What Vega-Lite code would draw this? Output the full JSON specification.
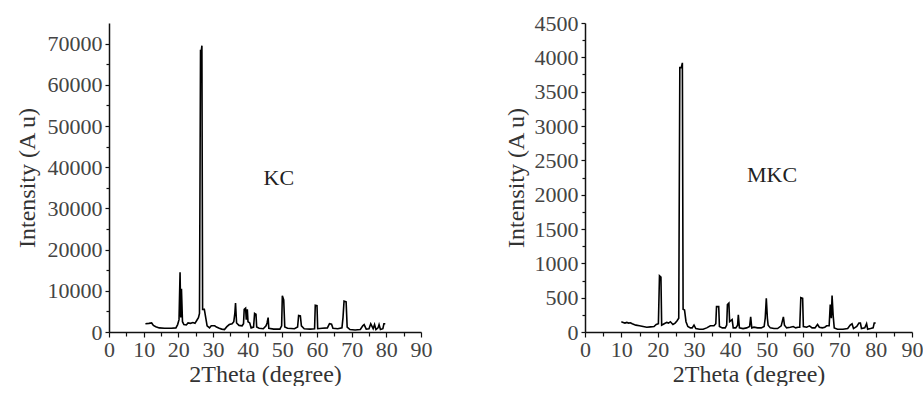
{
  "$schema": "https://vega.github.io/schema/vega-lite/v6.json",
  "background": "white",
  "padding": {"left": 15, "top": 12, "right": 0, "bottom": 0},
  "bounds": "flush",
  "spacing": 164,
  "config": {
    "view": {"stroke": null},
    "font": "Liberation Serif",
    "axis": {
      "grid": false,
      "domainColor": "#111",
      "domainWidth": 1.5,
      "tickColor": "#111",
      "tickWidth": 1.2,
      "tickSize": 5,
      "labelFont": "Liberation Serif",
      "labelFontSize": 22,
      "labelColor": "#444",
      "labelOverlap": false,
      "titleFont": "Liberation Serif",
      "titleFontSize": 24,
      "titleFontWeight": "normal",
      "titleColor": "#333"
    }
  },
  "datasets": {
    "kc": [
      {"x":10.5,"y":2000},{"x":11.5,"y":2100},{"x":12.3,"y":2200},{"x":12.8,"y":1600},{"x":13.5,"y":1300},{"x":14.5,"y":1000},{"x":16,"y":900},{"x":18,"y":900},{"x":19.3,"y":1000},{"x":19.8,"y":1800},{"x":20.2,"y":3000},{"x":20.5,"y":14500},{"x":20.7,"y":3500},{"x":20.9,"y":10500},{"x":21.2,"y":2500},{"x":21.6,"y":1800},{"x":22.3,"y":1700},{"x":22.8,"y":2200},{"x":23.5,"y":2100},{"x":24.2,"y":2300},{"x":24.8,"y":2100},{"x":25.3,"y":2800},{"x":25.8,"y":3500},{"x":26.1,"y":4500},{"x":26.4,"y":68500},{"x":26.6,"y":68000},{"x":26.8,"y":69500},{"x":27.0,"y":5500},{"x":27.5,"y":5500},{"x":27.9,"y":3500},{"x":28.3,"y":1500},{"x":29,"y":1000},{"x":29.5,"y":1500},{"x":30.5,"y":1500},{"x":31,"y":1200},{"x":31.8,"y":900},{"x":32.5,"y":700},{"x":33.3,"y":600},{"x":34,"y":1300},{"x":34.7,"y":1800},{"x":35.5,"y":2000},{"x":36.0,"y":2500},{"x":36.3,"y":4500},{"x":36.5,"y":7000},{"x":36.8,"y":2200},{"x":37.5,"y":1600},{"x":38.4,"y":1500},{"x":38.8,"y":2000},{"x":39.0,"y":5500},{"x":39.4,"y":5800},{"x":39.6,"y":3000},{"x":39.9,"y":5500},{"x":40.1,"y":2500},{"x":40.6,"y":2200},{"x":41.0,"y":1000},{"x":41.7,"y":1200},{"x":42.0,"y":4500},{"x":42.4,"y":4300},{"x":42.6,"y":1200},{"x":43.3,"y":900},{"x":44.5,"y":800},{"x":45.3,"y":1500},{"x":45.6,"y":2200},{"x":45.9,"y":3500},{"x":46.1,"y":900},{"x":47.5,"y":700},{"x":49.3,"y":700},{"x":49.8,"y":1500},{"x":50.0,"y":8800},{"x":50.4,"y":7800},{"x":50.7,"y":1200},{"x":51.5,"y":900},{"x":53.5,"y":800},{"x":54.4,"y":1200},{"x":54.7,"y":4000},{"x":55.2,"y":3900},{"x":55.5,"y":1500},{"x":56.3,"y":800},{"x":58,"y":700},{"x":59.3,"y":800},{"x":59.5,"y":6500},{"x":60.0,"y":6400},{"x":60.2,"y":800},{"x":61.5,"y":900},{"x":63.0,"y":1000},{"x":63.6,"y":2000},{"x":64.2,"y":1900},{"x":64.6,"y":900},{"x":66,"y":800},{"x":67.2,"y":1000},{"x":67.5,"y":3500},{"x":67.8,"y":7500},{"x":68.4,"y":7300},{"x":68.7,"y":1200},{"x":69.5,"y":600},{"x":71,"y":500},{"x":72.5,"y":600},{"x":73.2,"y":1500},{"x":73.6,"y":1800},{"x":74.2,"y":700},{"x":75.0,"y":800},{"x":75.5,"y":2000},{"x":75.8,"y":1500},{"x":76.2,"y":800},{"x":76.6,"y":1800},{"x":77.0,"y":600},{"x":77.6,"y":1000},{"x":77.9,"y":1800},{"x":78.3,"y":600},{"x":79.0,"y":800},{"x":79.3,"y":2000},{"x":79.7,"y":2000}
    ],
    "mkc": [
      {"x":10,"y":150},{"x":10.5,"y":140},{"x":11,"y":130},{"x":11.5,"y":140},{"x":12,"y":130},{"x":12.5,"y":135},{"x":13,"y":120},{"x":14,"y":100},{"x":15,"y":90},{"x":16,"y":80},{"x":17,"y":70},{"x":18,"y":75},{"x":19,"y":80},{"x":19.6,"y":110},{"x":20.2,"y":120},{"x":20.5,"y":820},{"x":20.9,"y":800},{"x":21.1,"y":100},{"x":21.8,"y":120},{"x":22.5,"y":140},{"x":23,"y":130},{"x":23.5,"y":150},{"x":24.2,"y":110},{"x":24.8,"y":130},{"x":25.3,"y":160},{"x":25.8,"y":200},{"x":26.1,"y":3850},{"x":26.5,"y":3850},{"x":26.8,"y":3920},{"x":27.0,"y":330},{"x":27.4,"y":320},{"x":27.8,"y":150},{"x":28.3,"y":80},{"x":29,"y":60},{"x":29.5,"y":60},{"x":30,"y":100},{"x":30.5,"y":50},{"x":31.5,"y":40},{"x":32.5,"y":40},{"x":33.5,"y":60},{"x":34.5,"y":90},{"x":35.5,"y":90},{"x":36.0,"y":120},{"x":36.2,"y":370},{"x":36.8,"y":370},{"x":37.0,"y":80},{"x":37.8,"y":60},{"x":38.6,"y":60},{"x":39.0,"y":100},{"x":39.2,"y":400},{"x":39.6,"y":420},{"x":39.8,"y":150},{"x":40.5,"y":180},{"x":40.8,"y":60},{"x":41.5,"y":60},{"x":42.0,"y":100},{"x":42.2,"y":250},{"x":42.5,"y":60},{"x":43.5,"y":50},{"x":44.5,"y":60},{"x":45.3,"y":80},{"x":45.6,"y":220},{"x":45.9,"y":60},{"x":46.5,"y":70},{"x":47.5,"y":60},{"x":48.5,"y":60},{"x":49.3,"y":80},{"x":49.6,"y":200},{"x":49.9,"y":490},{"x":50.2,"y":200},{"x":50.4,"y":100},{"x":51,"y":60},{"x":52,"y":50},{"x":53,"y":50},{"x":54,"y":90},{"x":54.6,"y":220},{"x":54.9,"y":100},{"x":55.5,"y":60},{"x":56.5,"y":70},{"x":57.3,"y":80},{"x":58,"y":60},{"x":58.6,"y":70},{"x":59.1,"y":70},{"x":59.4,"y":500},{"x":59.9,"y":490},{"x":60.1,"y":80},{"x":61,"y":70},{"x":61.8,"y":90},{"x":62.5,"y":60},{"x":63.3,"y":60},{"x":64,"y":110},{"x":64.5,"y":70},{"x":65.3,"y":60},{"x":66,"y":70},{"x":66.5,"y":90},{"x":67.2,"y":90},{"x":67.5,"y":400},{"x":67.8,"y":200},{"x":68.0,"y":530},{"x":68.3,"y":240},{"x":68.6,"y":60},{"x":69.5,"y":40},{"x":71,"y":40},{"x":72.3,"y":50},{"x":73,"y":100},{"x":73.5,"y":120},{"x":73.9,"y":50},{"x":74.8,"y":80},{"x":75.4,"y":130},{"x":75.8,"y":130},{"x":76.1,"y":50},{"x":77,"y":60},{"x":77.5,"y":120},{"x":77.8,"y":40},{"x":78.6,"y":50},{"x":79.3,"y":60},{"x":79.6,"y":130},{"x":80,"y":130}
    ],
    "kclabel": [{"x":49,"y":37400,"label":"KC"}],
    "mkclabel": [{"x":51.5,"y":2290,"label":"MKC"}]
  },
  "hconcat": [
    {
      "width": 312,
      "height": 309,
      "resolve": {"axis": {"x": "independent", "y": "independent"}},
      "layer": [
        {
          "data": {"name": "kc"},
          "mark": {"type": "line", "color": "black", "strokeWidth": 1.6, "clip": true},
          "encoding": {
            "x": {"field": "x", "type": "quantitative", "scale": {"domain": [0, 90], "nice": false},
              "axis": {"title": "2Theta (degree)", "orient": "bottom", "values": [0,10,20,30,40,50,60,70,80,90], "labelOverlap": false, "labelPadding": 2, "titlePadding": 2, "labelFlush": false}},
            "y": {"field": "y", "type": "quantitative", "scale": {"domain": [0, 75000], "nice": false},
              "axis": {"title": "Intensity (A u)", "orient": "left", "values": [0,10000,20000,30000,40000,50000,60000,70000], "format": "d", "labelOverlap": false, "labelPadding": 3, "titlePadding": 8, "tickSize": 4}}
          }
        },
        {
          "data": {"name": "kclabel"},
          "mark": {"type": "text", "font": "Liberation Serif", "fontSize": 22, "color": "#222"},
          "encoding": {
            "x": {"field": "x", "type": "quantitative",
              "axis": {"title": null, "orient": "bottom", "values": [5,15,25,35,45,55,65,75,85], "labels": false, "domain": false, "tickSize": 4}},
            "y": {"field": "y", "type": "quantitative",
              "axis": {"title": null, "orient": "left", "values": [5000,15000,25000,35000,45000,55000,65000], "labels": false, "domain": false, "tickSize": 3}},
            "text": {"field": "label"}
          }
        }
      ]
    },
    {
      "width": 327,
      "height": 309,
      "resolve": {"axis": {"x": "independent", "y": "independent"}},
      "layer": [
        {
          "data": {"name": "mkc"},
          "mark": {"type": "line", "color": "black", "strokeWidth": 1.6, "clip": true},
          "encoding": {
            "x": {"field": "x", "type": "quantitative", "scale": {"domain": [0, 90], "nice": false},
              "axis": {"title": "2Theta (degree)", "orient": "bottom", "values": [0,10,20,30,40,50,60,70,80,90], "labelOverlap": false, "labelPadding": 2, "titlePadding": 2, "labelFlush": false}},
            "y": {"field": "y", "type": "quantitative", "scale": {"domain": [0, 4500], "nice": false},
              "axis": {"title": "Intensity (A u)", "orient": "left", "values": [0,500,1000,1500,2000,2500,3000,3500,4000,4500], "format": "d", "labelOverlap": false, "labelPadding": 3, "titlePadding": 6, "tickSize": 4}}
          }
        },
        {
          "data": {"name": "mkclabel"},
          "mark": {"type": "text", "font": "Liberation Serif", "fontSize": 22, "color": "#222"},
          "encoding": {
            "x": {"field": "x", "type": "quantitative",
              "axis": {"title": null, "orient": "bottom", "values": [5,15,25,35,45,55,65,75,85], "labels": false, "domain": false, "tickSize": 4}},
            "y": {"field": "y", "type": "quantitative",
              "axis": {"title": null, "orient": "left", "values": [250,750,1250,1750,2250,2750,3250,3750,4250], "labels": false, "domain": false, "tickSize": 3}},
            "text": {"field": "label"}
          }
        }
      ]
    }
  ]
}
